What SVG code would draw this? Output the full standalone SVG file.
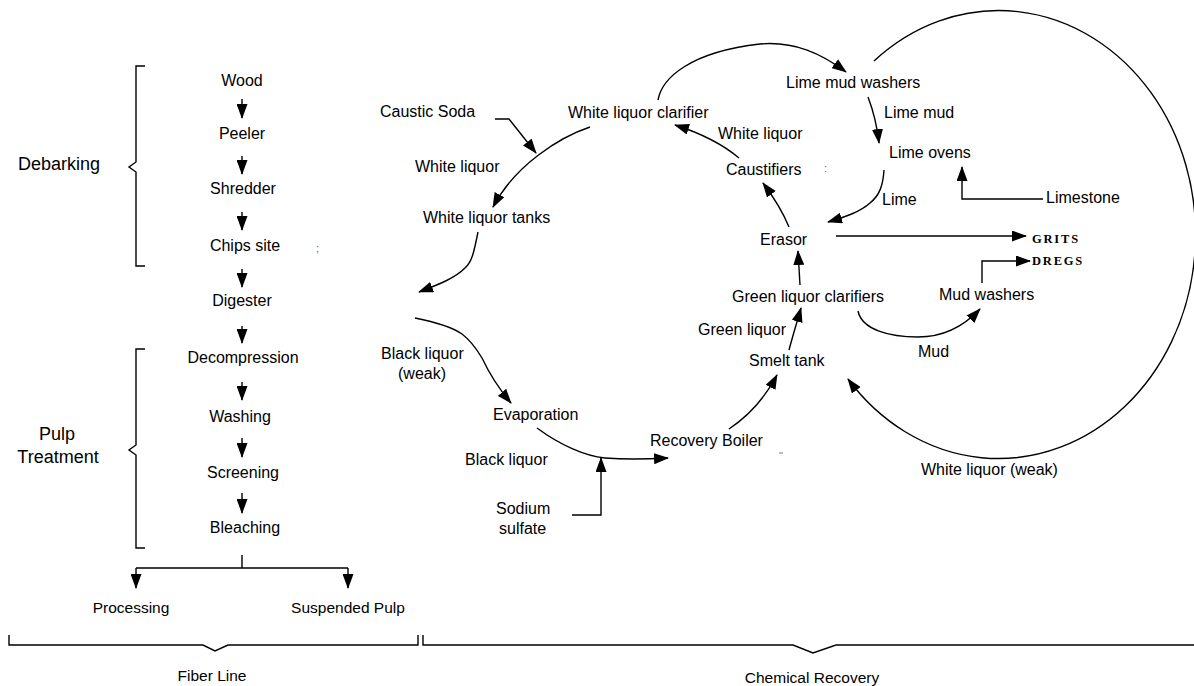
<svg xmlns="http://www.w3.org/2000/svg" width="1194" height="686" viewBox="0 0 1194 686">
  <style>
    text { font-family: "Liberation Sans", Arial, sans-serif; font-size: 16px; fill: #000; }
    .big { font-size: 18px; }
    .small { font-size: 15.5px; }
    .mid { text-anchor: middle; }
    .tag { font-family: "Liberation Serif", "Times New Roman", serif; font-weight: bold; font-size: 12.5px; letter-spacing: 1.8px; }
    .ln { fill: none; stroke: #000; stroke-width: 1.4; }
    .arr { fill: none; stroke: #000; stroke-width: 1.4; marker-end: url(#head); }
    .brace { fill: none; stroke: #000; stroke-width: 1.4; }
    .faint { fill: #666; font-size: 11px; }
  </style>
  <defs>
    <marker id="head" markerUnits="userSpaceOnUse" markerWidth="15" markerHeight="11" refX="14" refY="5.5" orient="auto">
      <path d="M0,0 L15,5.5 L0,11 z" fill="#000"/>
    </marker>
  </defs>
  <rect width="1194" height="686" fill="#fff"/>

  <!-- section braces -->
  <g id="brace-debarking">
    <path class="brace" d="M145,66 H136 V162 L129,167 L136,172 V266 H145"/>
    <text class="big mid" x="59" y="170">Debarking</text>
  </g>
  <g id="brace-pulp">
    <path class="brace" d="M145,349 H136 V445 L129,450 L136,455 V548 H145"/>
    <text class="big mid" x="57" y="440">Pulp</text>
    <text class="big mid" x="58" y="463">Treatment</text>
  </g>
  <g id="brace-fiber-line">
    <path class="brace" d="M9,635 V645 H203 L215,651 L228,645 H418 V635"/>
    <text class="small mid" x="212" y="681">Fiber Line</text>
  </g>
  <g id="brace-chemical-recovery">
    <path class="brace" d="M423,635 V645 H793 L813,653 L836,645 H1194"/>
    <text class="small mid" x="812" y="683">Chemical Recovery</text>
  </g>

  <!-- fiber line nodes -->
  <g id="wood"><text class="mid" x="242" y="86">Wood</text></g>
  <g id="peeler"><text class="mid" x="242" y="139">Peeler</text></g>
  <g id="shredder"><text class="mid" x="243" y="194">Shredder</text></g>
  <g id="chips-site"><text class="mid" x="245" y="251">Chips site</text><text class="faint" x="316" y="252">;</text></g>
  <g id="digester"><text class="mid" x="242" y="306">Digester</text></g>
  <g id="decompression"><text class="mid" x="243" y="363">Decompression</text></g>
  <g id="washing"><text class="mid" x="240" y="422">Washing</text></g>
  <g id="screening"><text class="mid" x="243" y="478">Screening</text></g>
  <g id="bleaching"><text class="mid" x="245" y="533">Bleaching</text></g>
  <g id="processing"><text class="small mid" x="131" y="613">Processing</text></g>
  <g id="suspended-pulp"><text class="small mid" x="348" y="613">Suspended Pulp</text></g>

  <!-- chemical recovery nodes -->
  <g id="caustic-soda"><text x="380" y="117">Caustic Soda</text></g>
  <g id="white-liquor-clarifier"><text x="568" y="118">White liquor clarifier</text></g>
  <g id="white-liquor-tanks"><text x="423" y="223">White liquor tanks</text></g>
  <g id="lime-mud-washers"><text x="786" y="88">Lime mud washers</text></g>
  <g id="lime-ovens"><text x="889" y="158">Lime ovens</text></g>
  <g id="limestone"><text x="1046" y="203">Limestone</text></g>
  <g id="caustifiers"><text x="726" y="175">Caustifiers</text><text class="faint" x="824" y="172">:</text></g>
  <g id="erasor"><text x="760" y="245">Erasor</text></g>
  <g id="grits"><text class="tag" x="1032" y="243">GRITS</text></g>
  <g id="dregs"><text class="tag" x="1032" y="265">DREGS</text></g>
  <g id="green-liquor-clarifiers"><text x="732" y="302">Green liquor clarifiers</text></g>
  <g id="mud-washers"><text x="939" y="300">Mud washers</text></g>
  <g id="smelt-tank"><text x="749" y="366">Smelt tank</text></g>
  <g id="recovery-boiler"><text x="650" y="446">Recovery Boiler</text><line x1="779" y1="453" x2="783" y2="453" stroke="#777" stroke-width="1"/></g>
  <g id="evaporation"><text x="493" y="420">Evaporation</text></g>
  <g id="sodium-sulfate"><text x="496" y="514">Sodium</text><text x="499" y="534">sulfate</text></g>

  <!-- connectors and flow labels -->
  <g id="connectors">
    <line class="arr" x1="242" y1="99" x2="242" y2="118"/>
    <line class="arr" x1="242" y1="156" x2="242" y2="174"/>
    <line class="arr" x1="242" y1="212" x2="242" y2="230"/>
    <line class="arr" x1="242" y1="269" x2="242" y2="287"/>
    <line class="arr" x1="242" y1="326" x2="242" y2="343"/>
    <line class="arr" x1="242" y1="382" x2="242" y2="400"/>
    <line class="arr" x1="242" y1="438" x2="242" y2="457"/>
    <line class="arr" x1="242" y1="493" x2="242" y2="513"/>
    <path class="ln" d="M242,555 V568 M136,568 H348"/>
    <line class="arr" x1="136" y1="568" x2="136" y2="588"/>
    <line class="arr" x1="348" y1="568" x2="348" y2="588"/>

    <path class="arr" d="M495,119 H509 L536,153"/>
    <path class="arr" d="M590,127 C560,137 515,165 493,207"/>
    <text x="415" y="172">White liquor</text>
    <path class="arr" d="M478,232 C474,252 472,262 465,268 C455,278 440,284 419,292"/>
    <path class="arr" d="M658,100 C662,78 690,52 760,44 C795,41 822,54 846,72"/>
    <path class="arr" d="M739,158 C720,142 700,133 675,125"/>
    <text x="718" y="139">White liquor</text>
    <path class="arr" d="M789,227 C782,210 772,195 763,183"/>
    <path class="arr" d="M800,285 L798,251"/>
    <path class="arr" d="M789,350 C793,335 797,322 801,308"/>
    <text x="698" y="335">Green liquor</text>
    <path class="arr" d="M729,429 C750,415 765,398 777,375"/>
    <path class="arr" d="M537,428 C560,445 585,456 605,458 C630,460 650,459 668,458"/>
    <text x="465" y="465">Black liquor</text>
    <path class="arr" d="M572,515 H601 V458"/>
    <path class="arr" d="M415,318 C435,322 452,327 462,334 C470,340 476,348 482,358 C490,375 500,390 511,403"/>
    <text x="381" y="359">Black liquor</text>
    <text x="398" y="379">(weak)</text>
    <path class="arr" d="M868,97 C873,110 877,125 879,143"/>
    <text x="884" y="118">Lime mud</text>
    <path class="arr" d="M884,170 C883,185 880,195 870,203 C860,212 845,217 828,222"/>
    <text x="882" y="205">Lime</text>
    <path class="arr" d="M1043,199 H962 V167"/>
    <path class="arr" d="M836,236 H1026"/>
    <path class="arr" d="M982,283 V261 H1030"/>
    <path class="arr" d="M858,311 C862,330 890,337 918,337 C945,337 965,325 980,309"/>
    <text x="918" y="357">Mud</text>
    <path class="arr" d="M874,61 A197,224 0 1,1 848,379"/>
    <text x="921" y="475">White liquor (weak)</text>
  </g>
</svg>
